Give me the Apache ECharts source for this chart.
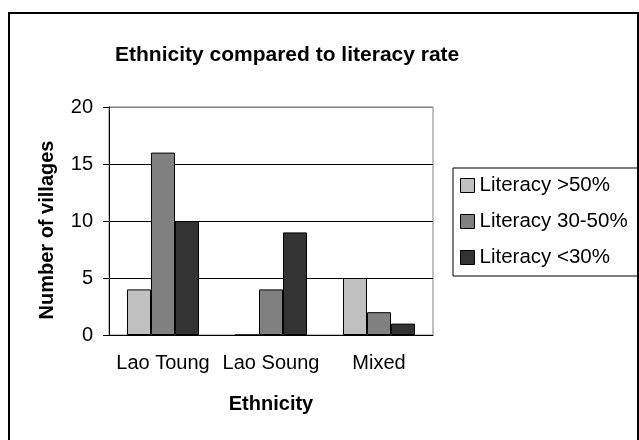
<!DOCTYPE html>
<html>
<head>
<meta charset="utf-8">
<script src="https://cdn.jsdelivr.net/npm/echarts@6/dist/echarts.min.js"></script>
<style>
  html, body { margin: 0; padding: 0; background: #fff; }
  #chart { width: 639px; height: 440px; }
</style>
</head>
<body>
<div id="chart"></div>
<script>
// data
const categories = ["Lao Toung", "Lao Soung", "Mixed"];
const seriesNames = ["Literacy >50%", "Literacy 30-50%", "Literacy <30%"];
const litHigh = [4, 0, 5];
const litMid = [16, 4, 2];
const litLow = [10, 9, 1];
const yTicks = [0, 5, 10, 15, 20];

const FONT = "'Liberation Sans', Arial, sans-serif";
const colors = ["#c0c0c0", "#808080", "#333333"];

const chart = echarts.init(document.getElementById("chart"));

function barSeries(name, data, i) {
  return {
    name: name,
    type: "bar",
    data: data,
    barGap: "0%",
    barCategoryGap: "33.3%",
    itemStyle: {
      color: colors[i],
      borderColor: "#000",
      borderWidth: 1
    },
    emphasis: { disabled: true }
  };
}

const option = {
  backgroundColor: "#fff",
  animation: false,
  textStyle: { fontFamily: FONT },
  title: {
    text: "Ethnicity compared to literacy rate",
    left: 115,
    top: 45,
    padding: 0,
    textStyle: {
      fontFamily: FONT,
      fontSize: 21,
      fontWeight: "bold",
      color: "#000"
    }
  },
  legend: {
    orient: "vertical",
    left: 453,
    top: 168,
    padding: [7, 12, 8, 7],
    itemGap: 15,
    itemWidth: 14,
    itemHeight: 14,
    icon: "rect",
    borderColor: "#000",
    borderWidth: 1,
    data: seriesNames,
    itemStyle: { borderColor: "#000", borderWidth: 1 },
    textStyle: { fontFamily: FONT, fontSize: 20.5, color: "#000" }
  },
  grid: {
    left: 109,
    top: 107,
    right: 206,
    bottom: 105,
    show: true,
    borderColor: "#808080",
    borderWidth: 1,
    backgroundColor: "#fff"
  },
  xAxis: {
    type: "category",
    data: categories,
    name: "Ethnicity",
    nameLocation: "middle",
    nameGap: 59,
    nameTextStyle: { fontFamily: FONT, fontSize: 20, fontWeight: "bold", color: "#000" },
    axisLine: { lineStyle: { color: "#000", width: 1 } },
    axisTick: { length: 6, lineStyle: { color: "#000" } },
    axisLabel: {
      interval: 0,
      hideOverlap: false,
      margin: 18,
      fontFamily: FONT,
      fontSize: 20,
      color: "#000"
    }
  },
  yAxis: {
    type: "value",
    min: yTicks[0],
    max: yTicks[yTicks.length - 1],
    interval: yTicks[1] - yTicks[0],
    name: "Number of villages",
    nameLocation: "middle",
    nameRotate: 90,
    nameGap: 52,
    nameTextStyle: {
      fontFamily: FONT,
      fontSize: 20,
      fontWeight: "bold",
      color: "#000",
      padding: [0, 18, 0, 0]
    },
    axisLine: { show: true, lineStyle: { color: "#000", width: 1 } },
    axisTick: { show: true, length: 6, lineStyle: { color: "#000" } },
    axisLabel: { margin: 16, fontFamily: FONT, fontSize: 20, color: "#000" },
    splitLine: {
      show: true,
      lineStyle: { color: ["#000", "#000", "#000", "#000", "#808080"], width: 1 }
    }
  },
  graphic: [
    {
      // outer chart frame, cut off at the bottom like the source
      type: "rect",
      silent: true,
      z: -10,
      shape: { x: 9, y: 13, width: 629, height: 460 },
      style: { fill: "none", stroke: "#000", lineWidth: 2 }
    }
  ],
  series: [
    barSeries(seriesNames[0], litHigh, 0),
    barSeries(seriesNames[1], litMid, 1),
    barSeries(seriesNames[2], litLow, 2)
  ]
};

chart.setOption(option);
</script>
</body>
</html>
